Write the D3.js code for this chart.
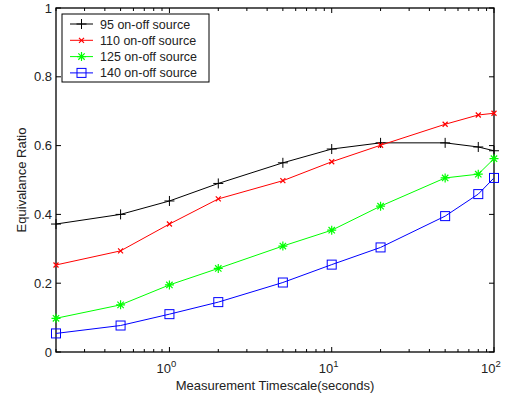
<!DOCTYPE html>
<html>
<head>
<meta charset="utf-8">
<title>Equivalance Ratio</title>
<script src="https://d3js.org/d3.v7.min.js"></script>
<style>
body{margin:0;background:#fff;}
svg{display:block;}
text{font-family:"Liberation Sans",Arial,sans-serif;font-size:13px;fill:#222;}
</style>
</head>
<body>
<div id="chart"></div>
<script>
// timescales (seconds)
var timescales = [0.2, 0.5, 1, 2, 5, 10, 20, 50, 80, 100];
var seriesNames = ['95 on-off source', '110 on-off source', '125 on-off source', '140 on-off source'];
var s95  = [0.372, 0.400, 0.439, 0.490, 0.550, 0.590, 0.608, 0.608, 0.596, 0.585];
var s110 = [0.253, 0.294, 0.372, 0.445, 0.498, 0.553, 0.601, 0.662, 0.689, 0.694];
var s125 = [0.098, 0.137, 0.195, 0.243, 0.308, 0.354, 0.424, 0.506, 0.517, 0.562];
var s140 = [0.054, 0.077, 0.110, 0.145, 0.202, 0.254, 0.304, 0.395, 0.459, 0.506];
var yTicks = [0, 0.2, 0.4, 0.6, 0.8, 1];
var xMajor = [1, 10, 100];

var colors = ['#000000', '#ff0000', '#00ff00', '#0000ff'];
var markers = ['plus', 'x', 'star', 'square'];
var allSeries = [s95, s110, s125, s140];

var W = 515, H = 398;
var margin = {top: 8, left: 56, right: 21, bottom: 46};

var svg = d3.select('#chart').append('svg').attr('width', W).attr('height', H);

var x = d3.scaleLog().domain([0.2, 100]).range([margin.left, W - margin.right]);
var y = d3.scaleLinear().domain([0, 1]).range([H - margin.bottom, margin.top]);

var x0 = x.range()[0], x1 = x.range()[1], y0 = y.range()[0], y1 = y.range()[1];

// frame
svg.append('rect').attr('x', x0).attr('y', y1).attr('width', x1 - x0).attr('height', y0 - y1)
	.attr('fill', 'none').attr('stroke', '#000').attr('stroke-width', 1.3);

// ticks
var minorX = [];
[0.1, 1, 10].forEach(function(d){
	for (var k = 2; k <= 9; k++) {
		var v = d * k;
		if (v >= 0.2 && v <= 100) minorX.push(v);
	}
});
var tk = svg.append('g').attr('stroke', '#000').attr('stroke-width', 1);
minorX.forEach(function(v){
	tk.append('line').attr('x1', x(v)).attr('x2', x(v)).attr('y1', y0).attr('y2', y0 - 3);
	tk.append('line').attr('x1', x(v)).attr('x2', x(v)).attr('y1', y1).attr('y2', y1 + 3);
});
xMajor.forEach(function(v){
	tk.append('line').attr('x1', x(v)).attr('x2', x(v)).attr('y1', y0).attr('y2', y0 - 5);
	tk.append('line').attr('x1', x(v)).attr('x2', x(v)).attr('y1', y1).attr('y2', y1 + 5);
});
yTicks.forEach(function(v){
	tk.append('line').attr('x1', x0).attr('x2', x0 + 5).attr('y1', y(v)).attr('y2', y(v));
	tk.append('line').attr('x1', x1).attr('x2', x1 - 5).attr('y1', y(v)).attr('y2', y(v));
});

// y tick labels
svg.selectAll('.ylab').data(yTicks).enter().append('text')
	.attr('class', 'ylab')
	.attr('x', x0 - 4).attr('y', function(d){ return y(d) + 4.5; })
	.attr('text-anchor', 'end')
	.text(function(d){ return d3.format('~g')(d); });

// x tick labels 10^n
svg.selectAll('.xlab').data(xMajor).enter().append('text')
	.attr('class', 'xlab')
	.attr('x', function(d){ return x(d) - 3; }).attr('y', y0 + 21)
	.attr('text-anchor', 'middle')
	.each(function(d){
		var t = d3.select(this);
		t.append('tspan').text('10');
		t.append('tspan').attr('dy', -6).style('font-size', '9.5px').text(Math.round(Math.log10(d)));
	});

// axis titles
svg.append('text').attr('x', (x0 + x1) / 2).attr('y', H - 8)
	.attr('text-anchor', 'middle').text('Measurement Timescale(seconds)');
svg.append('text').attr('transform', 'translate(26,' + ((y0 + y1) / 2) + ') rotate(-90)')
	.attr('text-anchor', 'middle').text('Equivalance Ratio');

function drawMarker(g, type, cx, cy, col) {
	if (type == 'plus') {
		g.append('path').attr('d', 'M' + (cx - 5) + ',' + cy + 'H' + (cx + 5) + 'M' + cx + ',' + (cy - 5) + 'V' + (cy + 5))
			.attr('stroke', col).attr('stroke-width', 1).attr('fill', 'none');
	} else if (type == 'x') {
		var s = 2.5;
		g.append('path').attr('d', 'M' + (cx - s) + ',' + (cy - s) + 'L' + (cx + s) + ',' + (cy + s) + 'M' + (cx - s) + ',' + (cy + s) + 'L' + (cx + s) + ',' + (cy - s))
			.attr('stroke', col).attr('stroke-width', 1.2).attr('fill', 'none');
	} else if (type == 'star') {
		var r = 4.5, d = '';
		for (var i = 0; i < 4; i++) {
			var a = i * Math.PI / 4;
			d += 'M' + (cx - r * Math.cos(a)) + ',' + (cy - r * Math.sin(a)) + 'L' + (cx + r * Math.cos(a)) + ',' + (cy + r * Math.sin(a));
		}
		g.append('path').attr('d', d).attr('stroke', col).attr('stroke-width', 1.2).attr('fill', 'none');
	} else if (type == 'square') {
		g.append('rect').attr('x', cx - 4.5).attr('y', cy - 4.5).attr('width', 9).attr('height', 9)
			.attr('stroke', col).attr('stroke-width', 1).attr('fill', 'none');
	}
}

var line = d3.line().x(function(d){ return x(d[0]); }).y(function(d){ return y(d[1]); });

allSeries.forEach(function(vals, i){
	var pts = timescales.map(function(t, j){ return [t, vals[j]]; });
	var g = svg.append('g');
	g.append('path').datum(pts).attr('d', line)
		.attr('fill', 'none').attr('stroke', colors[i]).attr('stroke-width', 1);
	pts.forEach(function(p){ drawMarker(g, markers[i], x(p[0]), y(p[1]), colors[i]); });
});

// legend
var lg = svg.append('g');
lg.append('rect').attr('x', 62).attr('y', 14).attr('width', 147).attr('height', 68)
	.attr('fill', '#fff').attr('stroke', '#000').attr('stroke-width', 1);
seriesNames.forEach(function(name, i){
	var ly = 24 + i * 16.3;
	lg.append('line').attr('x1', 70).attr('x2', 93).attr('y1', ly).attr('y2', ly)
		.attr('stroke', colors[i]).attr('stroke-width', 1);
	drawMarker(lg, markers[i], 81.5, ly, colors[i]);
	lg.append('text').attr('x', 100).attr('y', ly + 4.5).style('font-size', '12.5px').text(name);
});
</script>
</body>
</html>
